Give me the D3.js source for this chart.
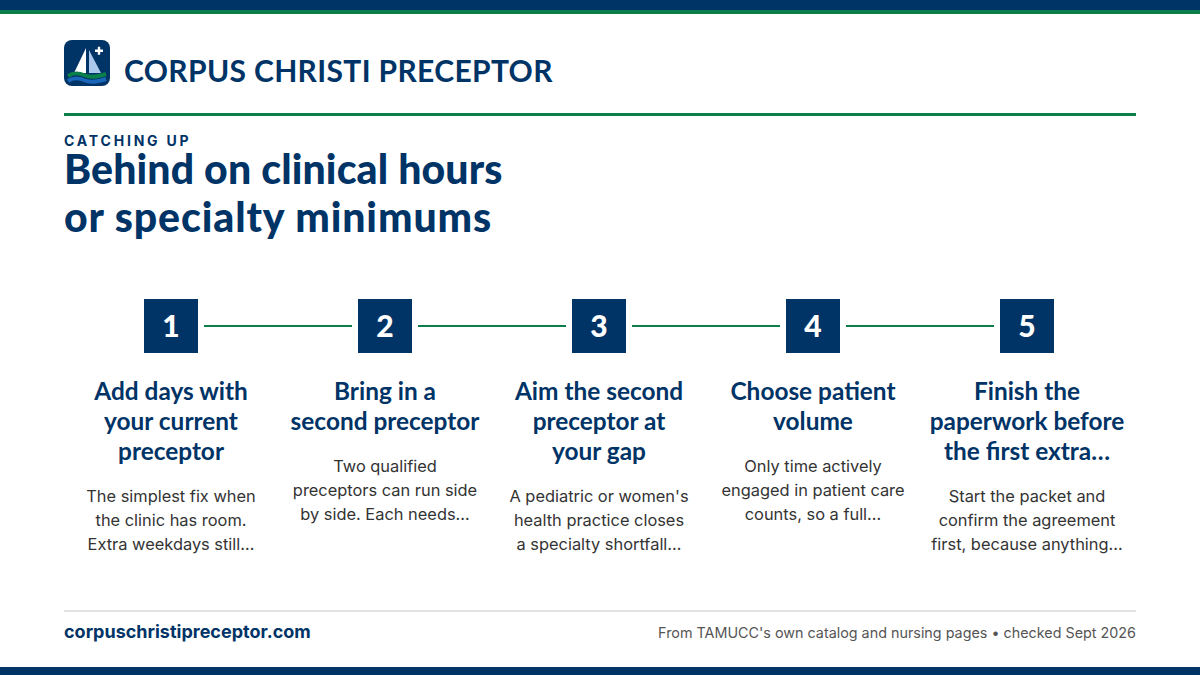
<!DOCTYPE html>
<html>
<head>
<meta charset="utf-8">
<script src="https://cdn.jsdelivr.net/npm/d3@7"></script>
<style>
  html, body { margin: 0; padding: 0; background: #fff; }
  svg { display: block; }
</style>
</head>
<body>
<div id="chart"></div>
<script>
// Step content
let stepNumbers = ["1","2","3","4","5"];
let stepTitles = [
  ["Add days with","your current","preceptor"],
  ["Bring in a","second preceptor"],
  ["Aim the second","preceptor at","your gap"],
  ["Choose patient","volume"],
  ["Finish the","paperwork before","the first extra\u2026"]
];
let stepBodies = [
  ["The simplest fix when","the clinic has room.","Extra weekdays still\u2026"],
  ["Two qualified","preceptors can run side","by side. Each needs\u2026"],
  ["A pediatric or women's","health practice closes","a specialty shortfall\u2026"],
  ["Only time actively","engaged in patient care","counts, so a full\u2026"],
  ["Start the packet and","confirm the agreement","first, because anything\u2026"]
];
let brandName = "CORPUS CHRISTI PRECEPTOR";
let eyebrow = "CATCHING UP";
let headline = ["Behind on clinical hours","or specialty minimums"];
let footerLeft = "corpuschristipreceptor.com";
let footerRight = "From TAMUCC's own catalog and nursing pages \u2022 checked Sept 2026";

const navy = "#003366", green = "#0a7f4a";
const headFont = "Lato, 'Open Sans', sans-serif";
const bodyFont = "Inter, Roboto, sans-serif";

let svg = d3.select("#chart")
  .append("svg")
  .attr("width", 1200)
  .attr("height", 675);

svg.append("rect").attr("width", 1200).attr("height", 675).attr("fill", "#fff");

// Top and bottom bands
svg.append("rect").attr("width", 1200).attr("height", 10).attr("fill", navy);
svg.append("rect").attr("y", 10).attr("width", 1200).attr("height", 4).attr("fill", green);
svg.append("rect").attr("y", 667).attr("width", 1200).attr("height", 8).attr("fill", navy);

// Logo tile
let logo = svg.append("g").attr("transform", "translate(64,40)");
logo.append("rect").attr("width", 46).attr("height", 46).attr("rx", 8).attr("fill", navy);
logo.append("path").attr("d", "M22 8 L22 33 L10 33 Z").attr("fill", "#fff");
logo.append("path").attr("d", "M25 10 L25 33 L37 33 Z").attr("fill", "#a9c8ec");
logo.append("path").attr("d", "M31 10.7 H39 M35 6.7 V14.7").attr("stroke", "#fff").attr("stroke-width", 2.4).attr("fill", "none");
logo.append("path").attr("d", "M4 36 C10 32 15 33 21 35.5 C27 38 33 37 42 34")
  .attr("stroke", green).attr("stroke-width", 4).attr("fill", "none");
logo.append("path").attr("d", "M4 41 C10 37 15 38 21 40.5 C27 43 33 42 42 39")
  .attr("stroke", "#1a66b8").attr("stroke-width", 4).attr("fill", "none");

// Brand and headline
svg.append("text").attr("x", 124).attr("y", 82)
  .attr("font-family", headFont).attr("font-weight", 700).attr("font-size", 30)
  .attr("letter-spacing", 0.35).attr("fill", navy).text(brandName);
svg.append("rect").attr("x", 64).attr("y", 113).attr("width", 1072).attr("height", 3).attr("fill", green);
svg.append("text").attr("x", 64).attr("y", 146)
  .attr("font-family", bodyFont).attr("font-weight", 700).attr("font-size", 14)
  .attr("letter-spacing", 2.8).attr("fill", navy).text(eyebrow);
// second line runs a bit wider in the original face
svg.append("g").selectAll("text").data(headline).enter().append("text")
  .attr("x", 64).attr("y", (d, i) => 184 + i * 48)
  .attr("font-family", headFont).attr("font-weight", 900).attr("font-size", 41)
  .attr("letter-spacing", (d, i) => i ? 0.9 : 0.13)
  .attr("fill", navy).text(d => d);

// Step positions from a point scale
let x = d3.scalePoint().domain(stepNumbers).range([171, 1027]);
const box = 54, boxTop = 299, gap = 6;

let links = d3.pairs(stepNumbers);
svg.append("g").selectAll("line").data(links).enter().append("line")
  .attr("x1", d => x(d[0]) + box / 2 + gap)
  .attr("x2", d => x(d[1]) - box / 2 - gap)
  .attr("y1", boxTop + box / 2).attr("y2", boxTop + box / 2)
  .attr("stroke", green).attr("stroke-width", 2);

let steps = svg.append("g").selectAll("g").data(stepNumbers).enter().append("g")
  .attr("transform", d => `translate(${x(d)},0)`);

steps.append("rect")
  .attr("x", -box / 2).attr("y", boxTop).attr("width", box).attr("height", box)
  .attr("fill", navy);
steps.append("text").attr("y", boxTop + 38).attr("text-anchor", "middle")
  .attr("font-family", headFont).attr("font-weight", 900).attr("font-size", 30)
  .attr("fill", "#fff").text(d => d);

// Titles, then body copy starts one gap below the title block
steps.each(function(d, i) {
  let g = d3.select(this);
  let titles = stepTitles[i];
  titles.forEach((t, j) => {
    g.append("text").attr("y", 400 + j * 30).attr("text-anchor", "middle")
      .attr("font-family", headFont).attr("font-weight", 700).attr("font-size", 24.4)
      .attr("fill", navy).text(t);
  });
  stepBodies[i].forEach((t, j) => {
    g.append("text").attr("y", 400 + (titles.length - 1) * 30 + 42 + j * 24).attr("text-anchor", "middle")
      .attr("font-family", bodyFont).attr("font-size", 16.4)
      .attr("fill", "#333").text(t);
  });
});

// Footer
svg.append("rect").attr("x", 64).attr("y", 610).attr("width", 1072).attr("height", 2).attr("fill", "#e3e3e3");
svg.append("text").attr("x", 64).attr("y", 638)
  .attr("font-family", bodyFont).attr("font-weight", 700).attr("font-size", 18)
  .attr("fill", navy).text(footerLeft);
svg.append("text").attr("x", 1136).attr("y", 638).attr("text-anchor", "end")
  .attr("font-family", bodyFont).attr("font-size", 14.35)
  .attr("fill", "#555").text(footerRight);
</script>
</body>
</html>
